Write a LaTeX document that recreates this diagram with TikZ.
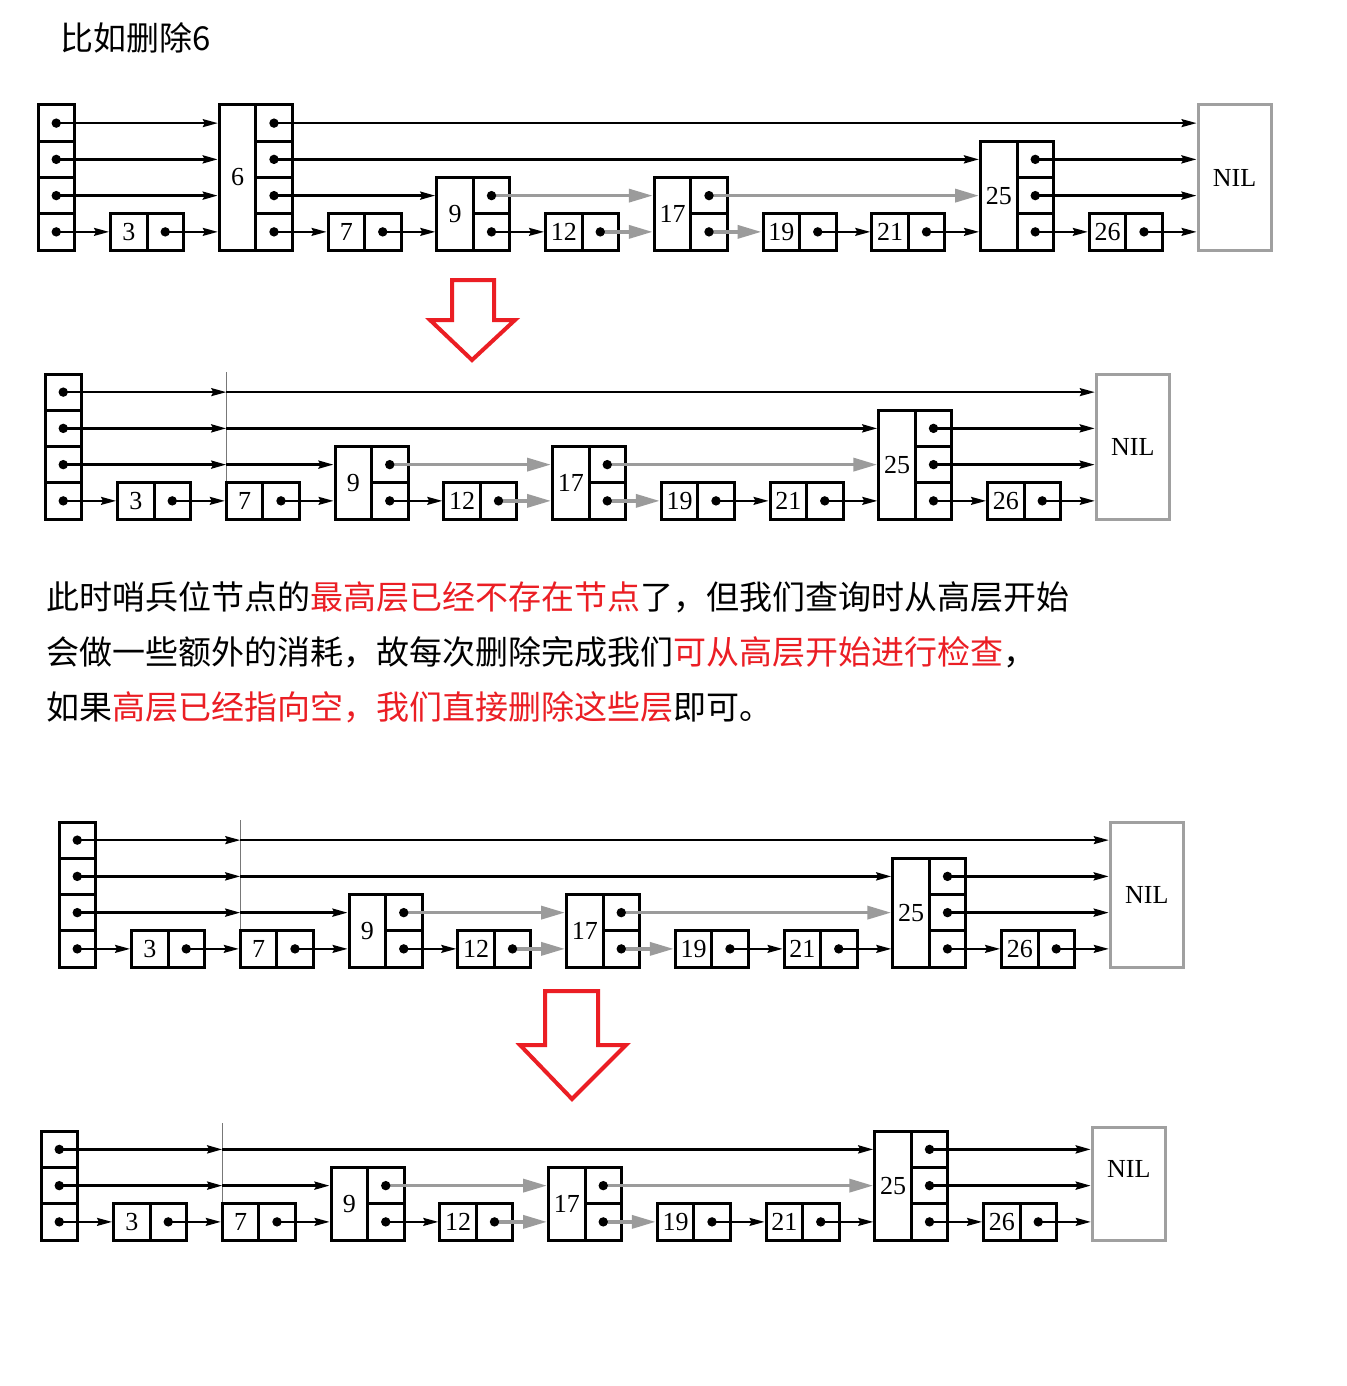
\documentclass[tikz,border=0pt]{standalone}
\usepackage{fontspec}
\setmainfont{Liberation Serif}
\newfontfamily\cjk{Noto Sans CJK SC}
\usetikzlibrary{arrows.meta,calc}
\definecolor{redc}{RGB}{235,30,36}
\definecolor{arrgray}{RGB}{155,155,155}
\definecolor{nilgray}{RGB}{160,160,160}
\definecolor{vgray}{RGB}{120,120,120}
\tikzset{
  cellbase/.style={draw=black, line width=3pt, inner sep=0pt, minimum width=36.5pt, fill=white},
  keycell/.style={cellbase, font=\fontsize{26}{26}\selectfont},
  ptrcell/.style={cellbase, minimum height=36.25pt},
  nilcell/.style={draw=nilgray, line width=3pt, inner sep=0pt, minimum width=73pt, fill=white, font=\fontsize{26}{26}\selectfont},
  niltext/.style={inner sep=0pt, font=\fontsize{26}{26}\selectfont},
  lkthin/.style={line width=1.8pt, -{Stealth[length=15pt,width=8pt,inset=2pt]}},
  lkthick/.style={line width=2.8pt, -{Stealth[length=15pt,width=8pt,inset=2pt]}},
  lkgray/.style={draw=arrgray, line width=3.6pt, -{Triangle[length=24pt,width=13pt]}},
  vline/.style={draw=vgray, line width=0.9pt},
  redarrow/.style={draw=redc, line width=4pt, fill=white, line join=miter},
  cjktext/.style={inner sep=0pt, anchor=west, font=\cjk\fontsize{33}{33}\selectfont},
}
% header column
\newcommand{\hdr}[2]{%
  \foreach \L in {1,...,#2}{\node[ptrcell] (#1-\L) at (18.25,{-(\L-0.5)*36.25}) {};}}
% skip-list node: name, slot, levels, key
\newcommand{\snd}[4]{%
  \pgfmathsetmacro\sx{72.5+108.75*(#2-1)}
  \node[keycell, minimum height={#3*36.25pt}] (#1) at ({\sx+18.25},{-#3*18.125}) {#4};
  \foreach \L in {1,...,#3}{\node[ptrcell] (#1-\L) at ({\sx+54.75},{-(\L-0.5)*36.25}) {};}}
% NIL node: name, slot, levels
\newcommand{\nilnd}[3]{%
  \pgfmathsetmacro\sx{72.5+108.75*(#2-1)}
  \node[nilcell, minimum height={#3*36.25pt}] (#1) at ({\sx+36.5},{-#3*18.125}) {NIL};}
\newcommand{\lk}[3][lkthin]{\draw[#1] (#2.center) -- (#3.west |- #2.center);}
\newcommand{\lkv}[4][lkthin]{\draw[#1] (#2.center) -- (#3 |- #2.center); \draw[#1] (#3 |- #2.center) -- (#4.west |- #2.center);}
\newcommand{\dts}[2]{\foreach \L in {1,...,#2}{\fill (#1-\L.center) circle[radius=4.7pt];}}
% diagram after deletion (4 levels)
\newcommand{\diagB}[1]{%
  \hdr{#1h}{4}
  \snd{#1n3}{1}{1}{3}
  \snd{#1n7}{2}{1}{7}
  \snd{#1n9}{3}{2}{9}
  \snd{#1n12}{4}{1}{12}
  \snd{#1n17}{5}{2}{17}
  \snd{#1n19}{6}{1}{19}
  \snd{#1n21}{7}{1}{21}
  \snd{#1n25}{8}{3}{25}
  \snd{#1n26}{9}{1}{26}
  \nilnd{#1N}{10}{4}
  \coordinate (#1g) at (181.25,-147);
  \draw[vline] (#1g) -- (#1g |- #1n7.north);
  \lk{#1h-1}{#1n3} \lk{#1n3-1}{#1n7} \lk{#1n7-1}{#1n9} \lk{#1n9-1}{#1n12}
  \lk[lkgray]{#1n12-1}{#1n17} \lk[lkgray]{#1n17-1}{#1n19}
  \lk{#1n19-1}{#1n21} \lk{#1n21-1}{#1n25} \lk{#1n25-1}{#1n26} \lk{#1n26-1}{#1N}
  \lkv[lkthick]{#1h-2}{#1g}{#1n9} \lk[lkgray]{#1n9-2}{#1n17} \lk[lkgray]{#1n17-2}{#1n25} \lk[lkthick]{#1n25-2}{#1N}
  \lkv[lkthick]{#1h-3}{#1g}{#1n25} \lk[lkthick]{#1n25-3}{#1N}
  \lkv{#1h-4}{#1g}{#1N}
  \dts{#1h}{4} \dts{#1n3}{1} \dts{#1n7}{1} \dts{#1n9}{2} \dts{#1n12}{1} \dts{#1n17}{2}
  \dts{#1n19}{1} \dts{#1n21}{1} \dts{#1n25}{3} \dts{#1n26}{1}
}
\begin{document}
\begin{tikzpicture}[x=1pt,y=-1pt]
\useasboundingbox (0,0) rectangle (1346,1386);
\fill[white] (0,0) rectangle (1346,1386);

\node[cjktext] (title) at (60,38) {比如删除6};

% ---------- diagram 1 ----------
\begin{scope}[shift={(38,250)}]
  \hdr{ah}{4}
  \snd{a3}{1}{1}{3}
  \snd{a6}{2}{4}{6}
  \snd{a7}{3}{1}{7}
  \snd{a9}{4}{2}{9}
  \snd{a12}{5}{1}{12}
  \snd{a17}{6}{2}{17}
  \snd{a19}{7}{1}{19}
  \snd{a21}{8}{1}{21}
  \snd{a25}{9}{3}{25}
  \snd{a26}{10}{1}{26}
  \nilnd{aN}{11}{4}
  \lk{ah-1}{a3} \lk{a3-1}{a6} \lk{a6-1}{a7} \lk{a7-1}{a9} \lk{a9-1}{a12}
  \lk[lkgray]{a12-1}{a17} \lk[lkgray]{a17-1}{a19}
  \lk{a19-1}{a21} \lk{a21-1}{a25} \lk{a25-1}{a26} \lk{a26-1}{aN}
  \lk[lkthick]{ah-2}{a6} \lk[lkthick]{a6-2}{a9} \lk[lkgray]{a9-2}{a17} \lk[lkgray]{a17-2}{a25} \lk[lkthick]{a25-2}{aN}
  \lk[lkthick]{ah-3}{a6} \lk[lkthick]{a6-3}{a25} \lk[lkthick]{a25-3}{aN}
  \lk{ah-4}{a6} \lk{a6-4}{aN}
  \dts{ah}{4} \dts{a3}{1} \dts{a6}{4} \dts{a7}{1} \dts{a9}{2} \dts{a12}{1} \dts{a17}{2}
  \dts{a19}{1} \dts{a21}{1} \dts{a25}{3} \dts{a26}{1}
\end{scope}

% red arrow 1
\draw[redarrow] (452,280) -- (494,280) -- (494,320) -- (515,320) -- (472,360) -- (430,320) -- (452,320) -- cycle;

% ---------- diagram 2 ----------
\begin{scope}[shift={(45,519)}]
  \diagB{b}
\end{scope}

% ---------- text ----------
\node[cjktext] (p1) at (46,597) {此时哨兵位节点的\textcolor{redc}{最高层已经不存在节点}了，但我们查询时从高层开始};
\node[cjktext] (p2) at (46,652) {会做一些额外的消耗，故每次删除完成我们\textcolor{redc}{可从高层开始进行检查}，};
\node[cjktext] (p3) at (46,707) {如果\textcolor{redc}{高层已经指向空，我们直接删除这些层}即可。};

% ---------- diagram 3 ----------
\begin{scope}[shift={(59,967)}]
  \diagB{c}
\end{scope}

% red arrow 2
\draw[redarrow] (545,991) -- (598,991) -- (598,1045) -- (626,1045) -- (572,1099) -- (520,1045) -- (545,1045) -- cycle;

% ---------- diagram 4 ----------
\begin{scope}[shift={(41,1240)}]
  \hdr{dh}{3}
  \snd{d3}{1}{1}{3}
  \snd{d7}{2}{1}{7}
  \snd{d9}{3}{2}{9}
  \snd{d12}{4}{1}{12}
  \snd{d17}{5}{2}{17}
  \snd{d19}{6}{1}{19}
  \snd{d21}{7}{1}{21}
  \snd{d25}{8}{3}{25}
  \snd{d26}{9}{1}{26}
  \node[nilcell, minimum height=113pt] (dN) at ({72.5+108.75*9+36.5},-56.5) {};
  \node[niltext] (dNt) at ([yshift=15pt]dN.center) {NIL};
  \coordinate (dg) at (181.25,-117);
  \draw[vline] (dg) -- (dg |- d7.north);
  \lk{dh-1}{d3} \lk{d3-1}{d7} \lk{d7-1}{d9} \lk{d9-1}{d12}
  \lk[lkgray]{d12-1}{d17} \lk[lkgray]{d17-1}{d19}
  \lk{d19-1}{d21} \lk{d21-1}{d25} \lk{d25-1}{d26} \lk{d26-1}{dN}
  \lkv[lkthick]{dh-2}{dg}{d9} \lk[lkgray]{d9-2}{d17} \lk[lkgray]{d17-2}{d25} \lk[lkthick]{d25-2}{dN}
  \lkv[lkthick]{dh-3}{dg}{d25} \lk[lkthick]{d25-3}{dN}
  \dts{dh}{3} \dts{d3}{1} \dts{d7}{1} \dts{d9}{2} \dts{d12}{1} \dts{d17}{2}
  \dts{d19}{1} \dts{d21}{1} \dts{d25}{3} \dts{d26}{1}
\end{scope}
\end{tikzpicture}
\end{document}
